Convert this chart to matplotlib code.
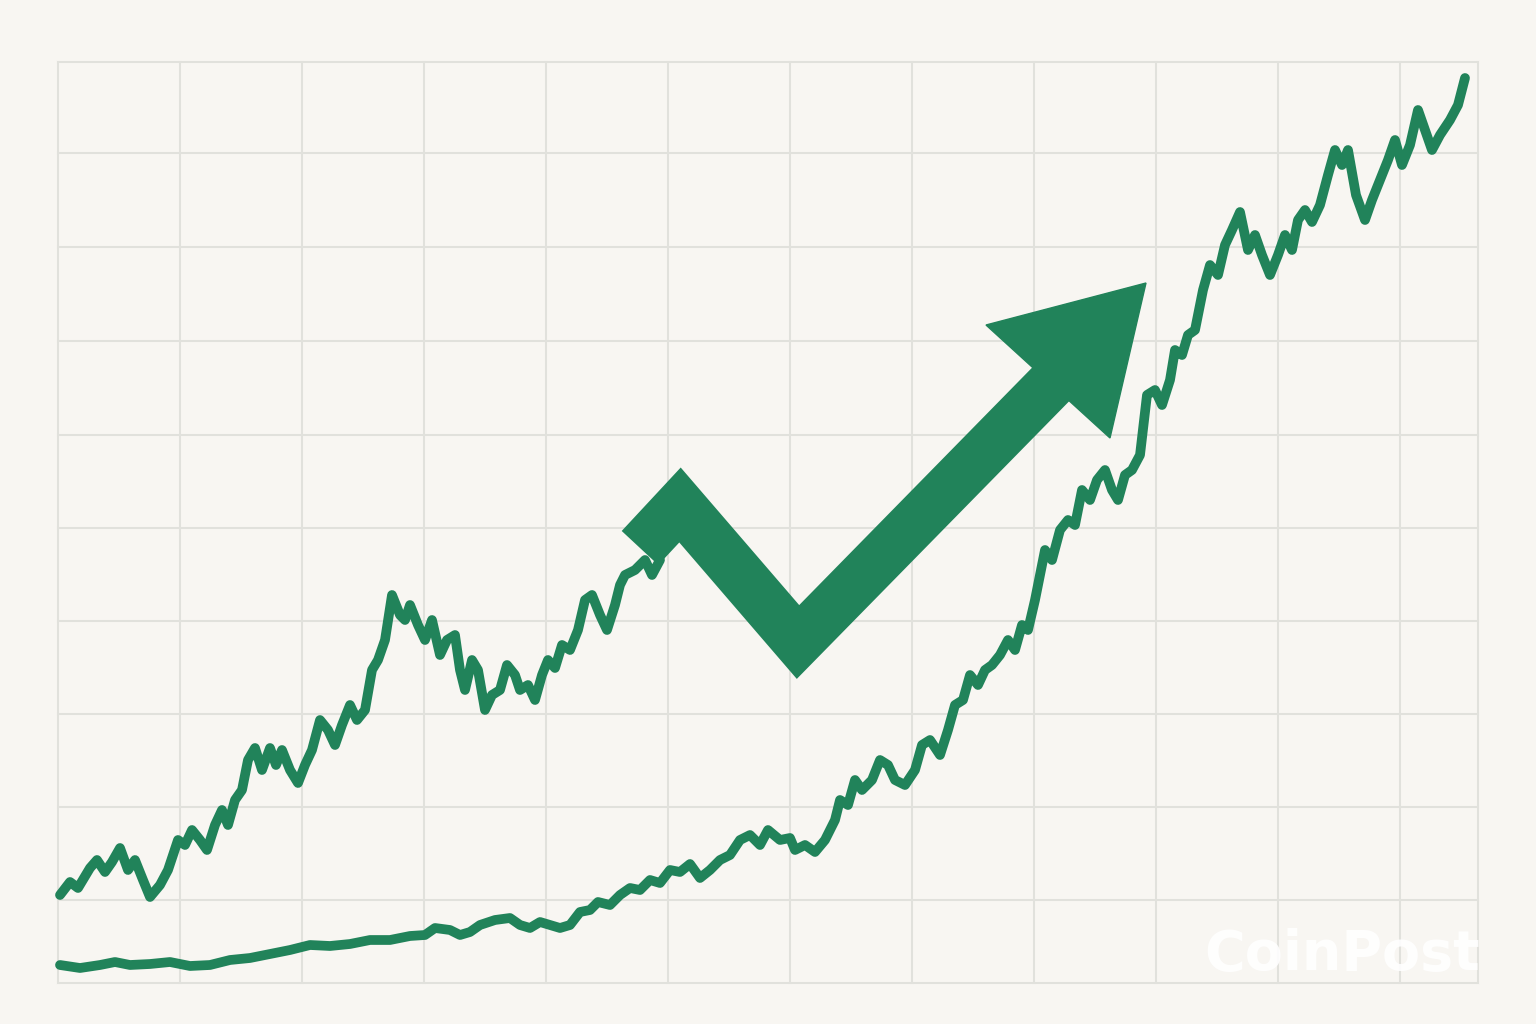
import matplotlib.pyplot as plt
from matplotlib.patches import Polygon

# Canvas in pixel units (y grows downward)
grid_x = [58, 180, 302, 424, 546, 668, 790, 912, 1034, 1156, 1278, 1400, 1478]
grid_y = [62, 153, 247, 341, 435, 528, 621, 714, 807, 900, 983]

upper_x = [60, 70, 78, 90, 97, 105, 112, 120, 128, 135, 143, 150, 160, 168, 178, 185, 192, 200, 207, 215,
           222, 228, 235, 242, 248, 255, 262, 270, 276, 282, 290, 298, 305, 312, 320, 328, 335, 342, 350, 357,
           365, 372, 378, 385, 392, 400, 405, 410, 418, 425, 432, 440, 447, 455, 460, 465, 472, 478, 485, 492,
           500, 507, 515, 520, 528, 535, 542, 548, 555, 562, 570, 578, 585, 592, 600, 607, 615, 620, 625, 635,
           645, 652, 660]
upper_y = [895, 882, 888, 868, 860, 872, 862, 848, 870, 860, 880, 897, 885, 870, 840, 845, 830, 840, 850, 825,
           810, 825, 800, 790, 760, 748, 770, 748, 765, 750, 770, 783, 765, 750, 720, 730, 745, 725, 705, 720,
           710, 670, 660, 640, 595, 615, 620, 605, 625, 640, 620, 655, 640, 635, 670, 690, 660, 670, 710, 695,
           690, 665, 675, 690, 685, 700, 675, 660, 668, 645, 650, 630, 600, 595, 615, 630, 605, 585, 575, 570,
           560, 575, 560]

lower_x = [60, 80, 100, 115, 130, 150, 170, 190, 210, 230, 250, 270, 290, 310, 330, 350, 370, 390, 410, 425,
           435, 450, 460, 470, 480, 495, 510, 520, 530, 540, 550, 560, 570, 580, 590, 598, 610, 620, 630, 640,
           650, 660, 670, 680, 690, 700, 710, 720, 730, 740, 750, 760, 768, 780, 790, 795, 805, 815, 825, 835,
           840, 848, 855, 862, 872, 880, 888, 895, 905, 915, 922, 930, 940, 948, 955, 963, 970, 978, 985, 992,
           1000, 1008, 1015, 1022, 1028, 1035, 1045, 1052, 1060, 1068, 1075, 1082, 1090, 1097, 1105, 1112, 1118,
           1125, 1132, 1140, 1147, 1155, 1162, 1170, 1175, 1182, 1188, 1195, 1203, 1210, 1218, 1225, 1232, 1240,
           1248, 1255, 1262, 1270, 1278, 1285, 1292, 1298, 1305, 1312, 1320, 1328, 1335, 1342, 1348, 1356, 1365,
           1372, 1380, 1388, 1395, 1402, 1410, 1418, 1425, 1432, 1440, 1450, 1458, 1465]
lower_y = [965, 968, 965, 962, 965, 964, 962, 966, 965, 960, 958, 954, 950, 945, 946, 944, 940, 940, 936, 935,
           928, 930, 935, 932, 925, 920, 918, 925, 928, 922, 925, 928, 925, 912, 910, 902, 905, 895, 888, 890,
           880, 883, 870, 872, 864, 878, 870, 860, 855, 840, 835, 845, 830, 840, 838, 850, 845, 852, 840, 820,
           800, 805, 780, 790, 780, 760, 765, 780, 785, 770, 745, 740, 755, 730, 705, 700, 675, 685, 670, 665,
           655, 640, 650, 625, 630, 600, 550, 560, 530, 520, 525, 490, 500, 480, 470, 490, 500,
           475, 470, 455, 395, 390, 405, 380, 350, 355, 335, 330, 290, 265, 275, 245, 230, 212,
           250, 235, 255, 275, 255, 235, 250, 220, 210, 222, 205, 175, 150, 165, 150, 195, 220,
           200, 180, 160, 140, 165, 145, 110, 130, 150, 135, 120, 105, 78]

arrow_x = [640, 680, 798, 1055]
arrow_y = [548, 505, 642, 380]
head_x = [986, 1146, 1110]
head_y = [325, 283, 438]

green = '#21835a'

fig = plt.figure(figsize=(15.36, 10.24), dpi=100, facecolor='#f8f6f2')
ax = fig.add_axes([0, 0, 1, 1])
ax.set_facecolor('#f8f6f2')
ax.set_xlim(0, 1536)
ax.set_ylim(1024, 0)
ax.axis('off')

for gx in grid_x:
    ax.plot([gx, gx], [grid_y[0], grid_y[-1]], color='#e1e1dc', lw=1.5, zorder=1)
for gy in grid_y:
    ax.plot([grid_x[0], grid_x[-1]], [gy, gy], color='#e1e1dc', lw=1.5, zorder=1)

ax.plot(upper_x, upper_y, color=green, lw=7, solid_joinstyle='round', solid_capstyle='round', zorder=3)
ax.plot(lower_x, lower_y, color=green, lw=7, solid_joinstyle='round', solid_capstyle='round', zorder=3)

ax.plot(arrow_x, arrow_y, color=green, lw=36, solid_joinstyle='miter', solid_capstyle='butt', zorder=4)
ax.add_patch(Polygon(list(zip(head_x, head_y)), closed=True, color=green, zorder=4))

ax.text(1342, 955, 'CoinPost', color='white', alpha=0.9, fontsize=40, fontweight='bold',
        ha='center', va='center', zorder=5)

plt.savefig('out.png', dpi=100, facecolor=fig.get_facecolor())
